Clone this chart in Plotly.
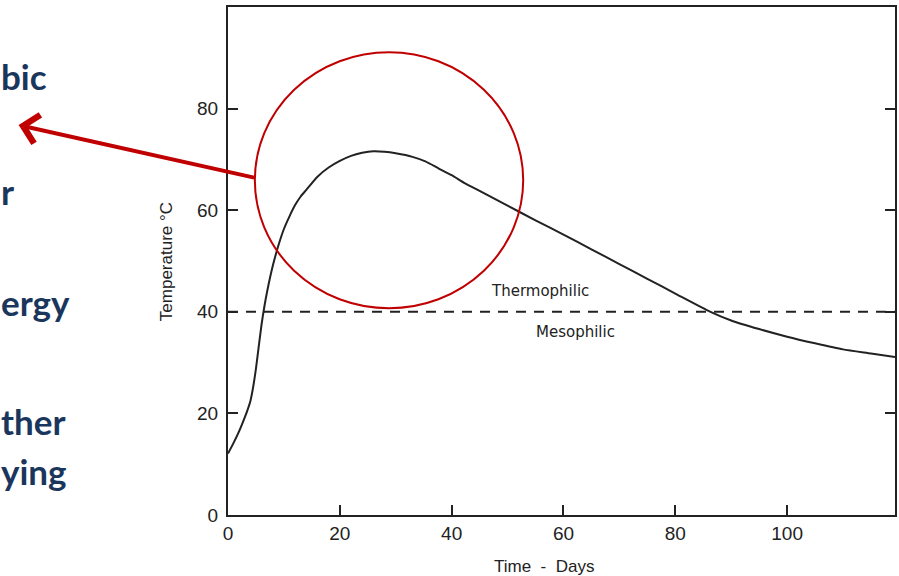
import plotly.graph_objects as go

# Data
days = [0, 1, 2, 3, 3.5, 4, 4.5, 5, 5.5, 6, 6.5, 7, 8, 9, 10, 11, 12, 13, 14, 16, 18, 20, 22,
        24, 26, 28, 30, 33, 35.3, 37.7, 40, 42.4, 45, 50, 55, 60, 65, 70, 75, 80, 86.3, 90, 95,
        100, 105, 110, 115, 119.3]
temps = [12.1, 14.2, 16.5, 19.2, 20.7, 22.4, 25.2, 28.8, 33.2, 37.5, 41.0, 44.0, 49.0, 53.0,
         56.3, 58.8, 61.0, 62.7, 64.0, 66.6, 68.4, 69.7, 70.7, 71.3, 71.6, 71.5, 71.2, 70.5,
         69.6, 68.2, 66.9, 65.3, 63.8, 60.9, 58.0, 55.2, 52.3, 49.4, 46.5, 43.6, 40.0, 38.3,
         36.6, 35.1, 33.8, 32.6, 31.8, 31.1]
boundary_x = [0, 119.3]
boundary_y = [40, 40]
x_ticks = [0, 20, 40, 60, 80, 100]
y_ticks = [0, 20, 40, 60, 80]
side_words = ["bic", "r", "ergy", "ther", "ying"]
side_baselines_px = [88, 203, 314, 433, 483]

INK = "#222222"
RED = "#c00000"
NAVY = "#1b365d"
FONT = "Liberation Sans, Arial"

fig = go.Figure()
fig.add_trace(go.Scatter(x=boundary_x, y=boundary_y, mode="lines",
                         line=dict(color=INK, width=2, dash="10px,8px"),
                         showlegend=False, hoverinfo="skip"))
fig.add_trace(go.Scatter(x=days, y=temps, mode="lines",
                         line=dict(color=INK, width=2, shape="spline", smoothing=0.6),
                         showlegend=False))

# plot area geometry (pixels)
L, R, T, B = 228, 2, 7, 61
W, H = 899, 576
pw, ph = W - L - R, H - T - B

def px_to_paper_x(px):
    return (px - L) / pw

def px_to_paper_y(py):
    return (H - B - py) / ph

fig.add_shape(type="circle", xref="x", yref="y", x0=4.8, x1=52.8, y0=40.7, y1=91.1,
              line=dict(color=RED, width=2))

fig.add_annotation(x=px_to_paper_x(18), y=px_to_paper_y(125), xref="paper", yref="paper",
                   ax=237, ay=53, axref="pixel", ayref="pixel", text="", showarrow=True,
                   arrowhead=4, arrowsize=1.4, arrowwidth=4, arrowcolor=RED)

fig.add_annotation(x=55.8, y=44.1, text="Thermophilic", showarrow=False,
                   font=dict(family="DejaVu Sans", size=15, color=INK))
fig.add_annotation(x=62.2, y=36, text="Mesophilic", showarrow=False,
                   font=dict(family="DejaVu Sans", size=15, color=INK))

# axis titles placed where the scanned figure has them
fig.add_annotation(x=px_to_paper_x(545), y=px_to_paper_y(566), xref="paper", yref="paper",
                   xanchor="center", yanchor="middle",
                   text="Time  -  Days", showarrow=False,
                   font=dict(family=FONT, size=17, color=INK))
fig.add_annotation(x=px_to_paper_x(166), y=px_to_paper_y(262), xref="paper", yref="paper",
                   xanchor="center", yanchor="middle",
                   text="Temperature °C", showarrow=False, textangle=-90,
                   font=dict(family=FONT, size=17, color=INK))

for word, base in zip(side_words, side_baselines_px):
    fig.add_annotation(x=px_to_paper_x(-2), y=px_to_paper_y(base - 12), xref="paper", yref="paper",
                       text="<b>%s</b>" % word, showarrow=False, xanchor="left", yanchor="middle",
                       font=dict(family="Lato, Open Sans", size=35, color=NAVY))

axis_font = dict(family=FONT, size=19, color=INK)
fig.update_xaxes(range=[0, 119.3], tickvals=x_ticks, ticks="inside", ticklen=10, tickwidth=2,
                 tickcolor=INK, showline=True, linecolor=INK, linewidth=2, mirror=True,
                 showgrid=False, zeroline=False, tickfont=axis_font, ticklabelstandoff=0)
fig.update_yaxes(range=[0, 100], tickvals=y_ticks, ticks="inside", ticklen=10, tickwidth=2,
                 tickcolor=INK, showline=True, linecolor=INK, linewidth=2, mirror="ticks",
                 showgrid=False, zeroline=False, tickfont=axis_font, ticklabelstandoff=4)

fig.update_layout(width=W, height=H, margin=dict(l=L, r=R, t=T, b=B),
                  paper_bgcolor="white", plot_bgcolor="white")

fig.write_html("out.html", config={"responsive": False, "displayModeBar": False},
               post_script="document.body.style.margin='0';")
